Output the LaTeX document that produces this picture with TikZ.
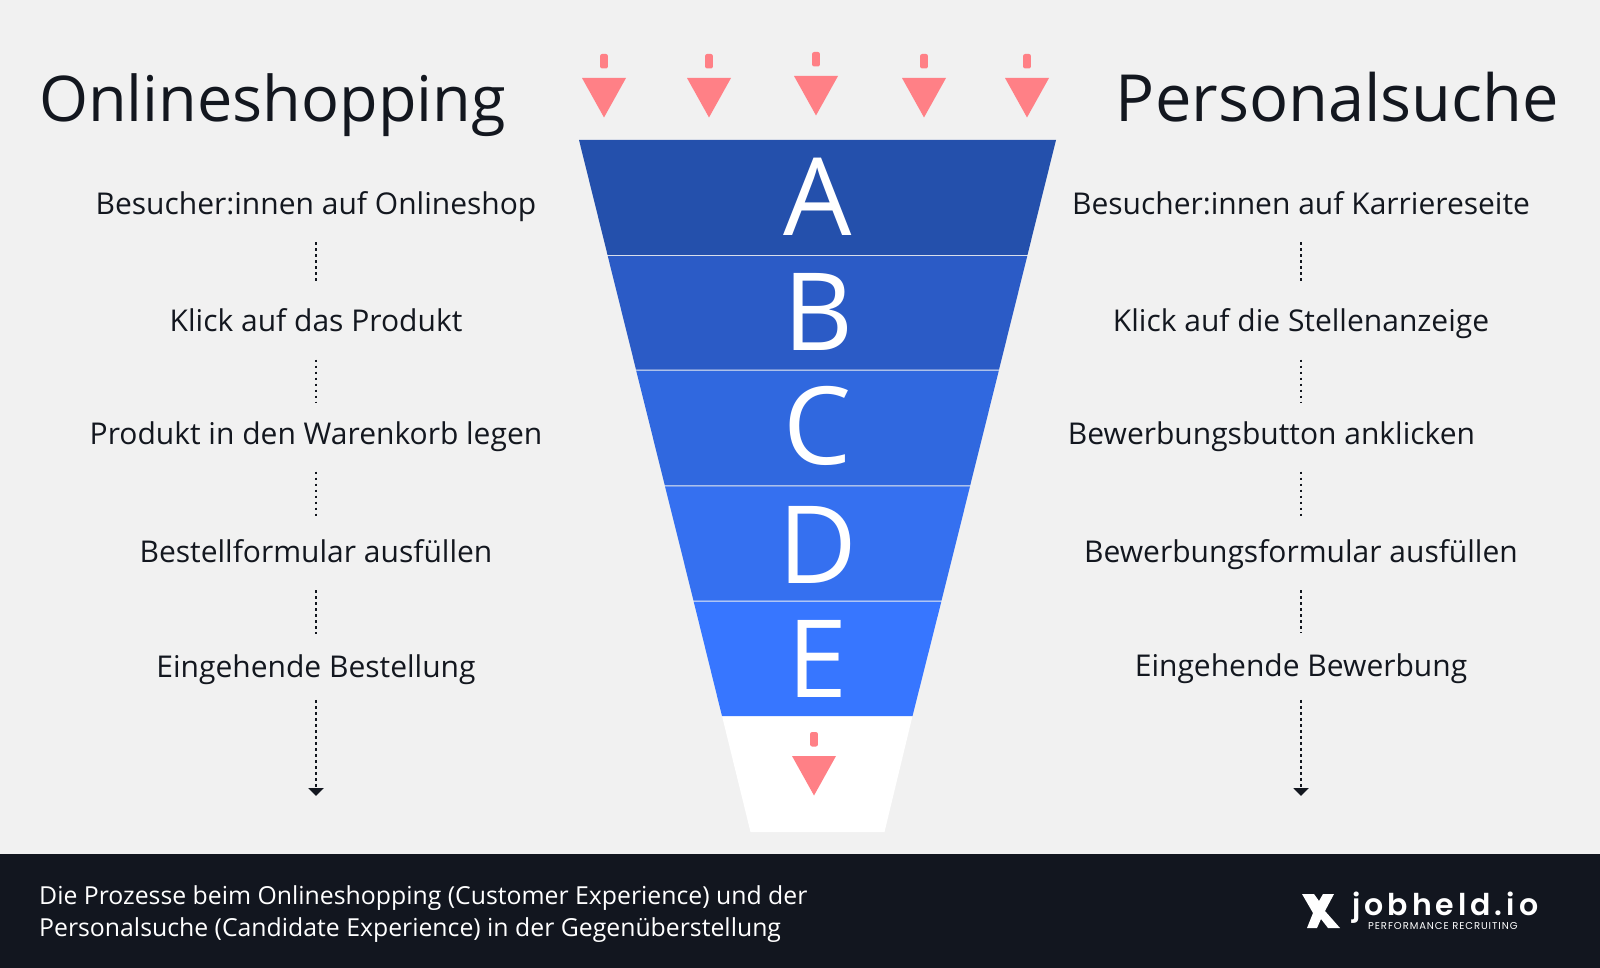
\documentclass[tikz,border=0pt]{standalone}
\usepackage{xcolor}
\usepackage{fontspec}
\usepackage{tikz}
\usetikzlibrary{arrows.meta}
\setmainfont{Open Sans}
\newfontfamily\logofont[LetterSpace=13.3]{Poppins SemiBold}
\newfontfamily\claimfont[LetterSpace=9.3]{Poppins}
\definecolor{pagegray}{HTML}{F1F1F1}
\definecolor{footerdark}{HTML}{12161F}
\definecolor{inkdark}{HTML}{13171F}
\definecolor{arrowpink}{HTML}{FF8086}
\definecolor{bandA}{HTML}{2450AC}
\definecolor{bandB}{HTML}{2B5BC6}
\definecolor{bandC}{HTML}{3068DF}
\definecolor{bandD}{HTML}{3570F0}
\definecolor{bandE}{HTML}{3776FF}
\tikzset{
    headline/.style={anchor=base, inner sep=0pt, text=inkdark},
    steplabel/.style={inner sep=0pt, text=inkdark, text height=22pt, text depth=7pt, minimum height=70.4pt, font=\fontsize{30}{30}\selectfont},
    bandletter/.style={anchor=base, inner sep=0pt, text=white, font=\fontsize{108}{108}\selectfont},
    stepline/.style={draw=inkdark, line width=2.6pt, dash pattern=on 2.6pt off 3.4pt},
    stepend/.style={stepline, -{Triangle[width=15pt, length=8pt, fill=inkdark]}},
    footnote/.style={anchor=base west, inner sep=0pt, text=white, font=\fontsize{24.8}{24.8}\selectfont},
}
\begin{document}
\begin{tikzpicture}[x=1pt, y=-1pt]
    \useasboundingbox (0,0) rectangle (1600,968);
    \fill[pagegray] (0,0) rectangle (1600,968);
    \fill[footerdark] (0,854) rectangle (1600,968);

    % funnel
    \fill[white] (722,716) -- (912.5,716) -- (884.5,832) -- (750.5,832) -- cycle;
    \foreach \name/\ya/\yb/\yt/\xa/\xb/\xc/\xd in {
        A/140/254.8/236/579/1056/607.5/1027.5,
        B/255.8/369.6/350.7/607.7/1027.3/636/999,
        C/370.6/485.4/464/636.2/998.8/664.8/970.2,
        D/486.4/600.6/583.3/665/970/693.5/941.5,
        E/601.6/716/697.7/693.7/941.3/722/912.5} {
        \fill[band\name] (\xa,\ya) -- (\xb,\ya) -- (\xd,\yb) -- (\xc,\yb) -- cycle;
        \node[bandletter] (letter\name) at (818,\yt) {\name};
    }

    % arrows
    \foreach \x/\y in {604/0, 709/0, 816/-2, 924/0, 1027/0, 814/678} {
        \fill[arrowpink, rounded corners=2pt] (\x-3.9,54+\y) rectangle (\x+3.9,68.5+\y);
        \fill[arrowpink] (\x-22,78+\y) -- (\x+22,78+\y) -- (\x,117.5+\y) -- cycle;
    }

    % titles
    \node[headline, font=\fontsize{63}{63}\selectfont] (shoptitle) at (272.5,122) {Onlineshopping};
    \node[headline, font=\fontsize{65}{65}\selectfont] (jobtitle) at (1337.5,122) {Personalsuche};

    % left column
    \node[steplabel] (s1) at (316,206.8) {Besucher:innen auf Onlineshop};
    \node[steplabel] (s2) at (316,324.2) {Klick auf das Produkt};
    \node[steplabel] (s3) at (316,437.3) {Produkt in den Warenkorb legen};
    \node[steplabel] (s4) at (316,555) {Bestellformular ausfüllen};
    \node[steplabel] (s5) at (316,669.5) {Eingehende Bestellung};
    \coordinate (s6) at (316,796);
    \draw[stepline, shorten >=5pt] (s1) -- (s2);
    \draw[stepline] (s2) -- (s3);
    \draw[stepline, shorten <=-1pt] (s3) -- (s4);
    \draw[stepline] (s4) -- (s5);
    \draw[stepend, shorten <=-5pt] (s5) -- (s6);

    % right column
    \node[steplabel] (p1) at (1301,206.8) {Besucher:innen auf Karriereseite};
    \node[steplabel] (p2) at (1301,324.2) {Klick auf die Stellenanzeige};
    \node[steplabel] (p3) at (1271.5,437.3) {Bewerbungsbutton anklicken};
    \node[steplabel] (p4) at (1301,555) {Bewerbungsformular ausfüllen};
    \node[steplabel] (p5) at (1301,668.5) {Eingehende Bewerbung};
    \coordinate (p6) at (1301,796);
    \draw[stepline, shorten >=5pt] (p1) -- (p2);
    \draw[stepline] (p2) -- (p3.north -| p2);
    \draw[stepline, shorten <=-1pt] (p3.south -| p2) -- (p4);
    \draw[stepline] (p4) -- (p5);
    \draw[stepend, shorten <=-4pt] (p5) -- (p6);

    % footer
    \node[footnote] (note1) at (39,904) {Die Prozesse beim Onlineshopping (Customer Experience) und der};
    \node[footnote] (note2) at (39,936) {Personalsuche (Candidate Experience) in der Gegenüberstellung};

    % logo
    \fill[white] (1302,894) -- (1314,894) -- (1319,901) -- (1323,894) -- (1334,894) -- (1325,911) -- (1340,928)
        -- (1328,928) -- (1321,919) -- (1317,928) -- (1307,928) -- (1313,913) -- cycle;
    \node[anchor=base west, inner sep=0pt, text=white, font=\logofont\fontsize{30}{30}\selectfont] (logotext) at (1352,915) {jobheld.io};
    \node[anchor=base west, inner sep=0pt, text=white, font=\claimfont\fontsize{10}{10}\selectfont] (logoclaim) at (1368,929) {PERFORMANCE RECRUITING};
\end{tikzpicture}
\end{document}
